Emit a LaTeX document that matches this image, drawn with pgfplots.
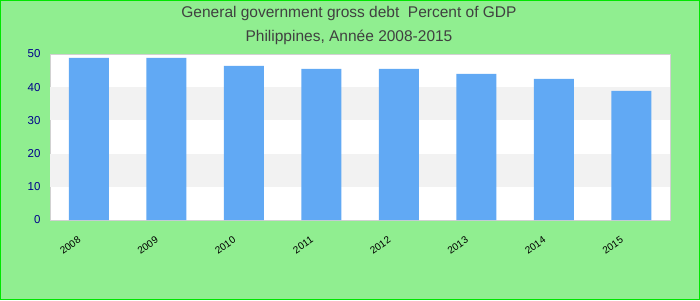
\documentclass[border=0pt]{standalone}
\usepackage{pgfplots}
\pgfplotsset{compat=1.18}
\usepackage{fontspec}
\setmainfont{Liberation Sans}
\definecolor{bg}{RGB}{144,238,144}
\definecolor{frame}{RGB}{0,230,0}
\definecolor{barc}{RGB}{97,169,244}
\definecolor{band}{RGB}{242,242,242}
\definecolor{titlec}{RGB}{64,64,64}
\definecolor{ytick}{RGB}{0,0,139}
\begin{document}
\begin{tikzpicture}
\useasboundingbox (0pt,0pt) rectangle (700pt,300pt);
\fill[bg] (0pt,0pt) rectangle (700pt,300pt);
\draw[frame,line width=1.2pt] (0.6pt,0.6pt) rectangle (699.4pt,299.4pt);
\node[titlec,font=\fontsize{15.5}{18}\selectfont] at (349pt,287pt) {General government gross debt\ \ Percent of GDP};
\node[titlec,font=\fontsize{15.5}{18}\selectfont] at (349pt,263pt) {Philippines, Année 2008-2015};
\begin{axis}[
  at={(50pt,80pt)}, anchor=south west,
  scale only axis, width=620pt, height=166pt,
  xmin=-0.5, xmax=7.5, ymin=0, ymax=50,
  ytick={0,10,20,30,40,50},
  xtick={0,...,7},
  xticklabels={2008,2009,2010,2011,2012,2013,2014,2015},
  x tick label style={rotate=35, anchor=north east, font=\fontsize{10}{12}\selectfont, xshift=-15pt, yshift=-3pt},
  y tick label style={font=\fontsize{11.5}{13}\selectfont, text=ytick},
  /pgf/number format/assume math mode=true,
  major tick length=0pt,
  axis line style={draw=black!18, line width=1pt},
  axis background/.style={fill=white},
  yticklabel style={xshift=-6pt},
  clip=false,
]
\fill[band] (axis cs:-0.5,10) rectangle (axis cs:7.5,20);
\fill[band] (axis cs:-0.5,30) rectangle (axis cs:7.5,40);
\addplot[ybar, bar width=40pt, fill=barc, draw=none] coordinates {
(0,48.8) (1,48.8) (2,46.4) (3,45.5) (4,45.5) (5,44.0) (6,42.5) (7,38.9)};
\end{axis}
\end{tikzpicture}
\end{document}
